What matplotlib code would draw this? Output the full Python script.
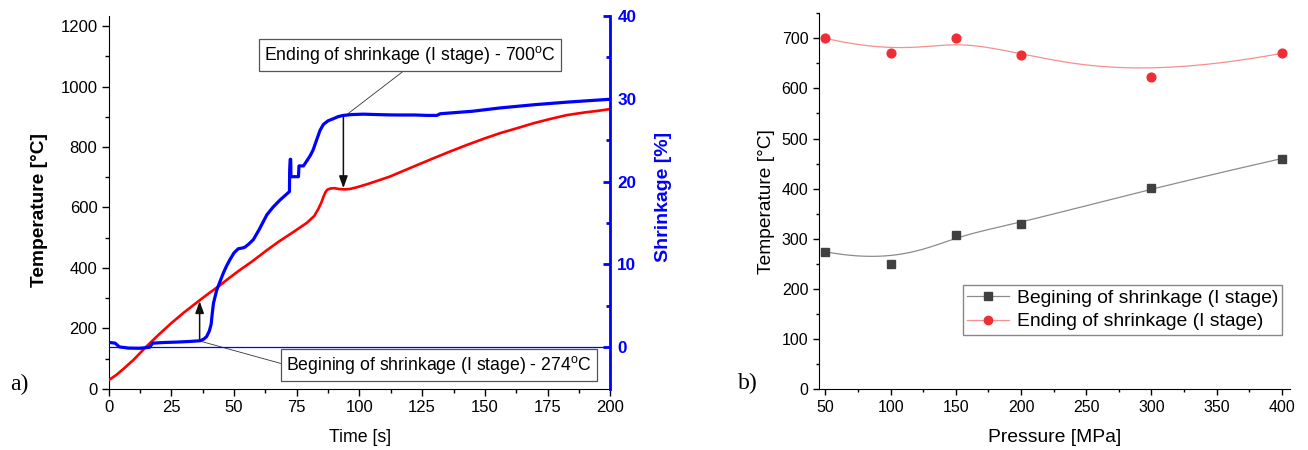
import numpy as np
import matplotlib
matplotlib.use("Agg")
import matplotlib.pyplot as plt
from matplotlib.ticker import MultipleLocator, FixedLocator

plt.rcParams['font.family'] = ['Liberation Sans', 'DejaVu Sans']
plt.rcParams['mathtext.fontset'] = 'custom'
plt.rcParams['mathtext.rm'] = 'Liberation Sans'
plt.rcParams['mathtext.it'] = 'Liberation Sans:italic'
plt.rcParams['mathtext.bf'] = 'Liberation Sans:bold'

# ---------------- data: panel a ----------------
time_temp = [0, 3, 6, 10, 15, 20, 25, 30, 36.5, 40, 44, 48, 52, 57, 63, 68, 73.7, 79,
             82, 83.6, 84.8, 85.6, 86.4, 87.2, 88.5, 90, 92, 94, 96, 99, 103, 107, 112,
             116, 122, 129.5, 136, 142.8, 150, 156, 163, 169.4, 176, 182.7, 190, 195, 200]
temperature = [28, 45, 66, 96, 139, 179, 217, 252, 294, 316, 340, 366, 391, 420, 458, 488,
               519, 549, 572, 595, 616, 634, 650, 659, 663, 664, 661, 660, 661, 667, 677,
               688, 702, 716, 737, 763, 785, 807, 829, 846, 863, 879, 893, 906, 915, 920, 926]

time_shr = [0, 2.6, 4.3, 8, 12.5, 16.3, 17.6, 22, 27.2, 32, 36.5, 38, 39.1, 40.2, 40.9,
            41.3, 41.8, 43.1, 44.5, 45.8, 47, 48.4, 50, 51.7, 53.5, 54.4, 56, 57.7, 60,
            63.1, 65.5, 68.4, 72.1, 72.2, 72.4, 72.6, 72.7, 75.7, 75.9, 77.7, 80.3, 81.5,
            83, 84.3, 85.6, 87.5, 89.6, 91.5, 93.6, 97, 101.6, 107, 112.2, 116, 122, 127,
            130.9, 132.2, 145, 156, 170, 182.7, 190, 200]
shrinkage = [0.6, 0.5, 0.05, -0.1, -0.12, 0.0, 0.5, 0.58, 0.63, 0.7, 0.79, 1.0, 1.3, 2.0,
             2.8, 4.0, 5.3, 6.9, 8.0, 9.0, 9.8, 10.6, 11.4, 11.9, 12.0, 12.1, 12.5, 13.0,
             14.2, 16.0, 16.9, 17.8, 18.8, 21.5, 22.7, 22.7, 20.6, 20.6, 21.9, 21.9, 23.1,
             23.8, 25.1, 26.2, 26.9, 27.35, 27.6, 27.85, 28.0, 28.1, 28.15, 28.1, 28.06,
             28.05, 28.05, 28.0, 28.0, 28.2, 28.5, 28.9, 29.3, 29.6, 29.75, 29.95]

begin_label = "Begining of shrinkage (I stage) - 274$^{\\mathrm{o}}$C"
end_label = "Ending of shrinkage (I stage) - 700$^{\\mathrm{o}}$C"

# ---------------- data: panel b ----------------
pressure = [50, 100, 150, 200, 300, 400]
begin_temp = [274, 250, 308, 330, 401, 460]
end_temp = [700, 670, 700, 666, 622, 670]
legend_labels = ["Begining of shrinkage (I stage)", "Ending of shrinkage (I stage)"]


def bspline_curve(xs, ys, k=3, num=400):
    """Clamped B-spline using the data points as control points (Origin 'B-Spline')."""
    P = np.column_stack([xs, ys]).astype(float)
    n = len(P)
    k = min(k, n - 1)
    inner = np.linspace(0, 1, n - k + 1)[1:-1]
    t = np.concatenate([np.zeros(k + 1), inner, np.ones(k + 1)])
    u = np.linspace(0, 1, num)

    def basis(i, p):
        if p == 0:
            res = ((t[i] <= u) & (u < t[i + 1])).astype(float)
            if t[i] < t[i + 1] and t[i + 1] == 1.0:
                res[u == 1.0] = 1.0
            return res
        out = np.zeros_like(u)
        d1 = t[i + p] - t[i]
        if d1 > 0:
            out += (u - t[i]) / d1 * basis(i, p - 1)
        d2 = t[i + p + 1] - t[i + 1]
        if d2 > 0:
            out += (t[i + p + 1] - u) / d2 * basis(i + 1, p - 1)
        return out

    C = np.zeros((num, 2))
    for i in range(n):
        C += basis(i, k)[:, None] * P[i]
    return C[:, 0], C[:, 1]


fig = plt.figure(figsize=(13.08, 4.5), dpi=100)

# ================= panel a =================
ax = fig.add_axes([0.0830, 0.1362, 0.3836, 0.8282])
ax2 = ax.twinx()

ax.plot(time_temp, temperature, color='#ff0000', lw=1.9, zorder=3)
ax2.axhline(0, color='#0000ff', lw=0.9, zorder=2)
ax2.plot(time_shr, shrinkage, color='#0000ff', lw=2.3, zorder=3)

ax.set_xlim(0, 200)
ax.set_ylim(0, 1234)
ax2.set_ylim(-5, 40)

ax.xaxis.set_major_locator(MultipleLocator(25))
ax.xaxis.set_minor_locator(MultipleLocator(12.5))
ax.yaxis.set_major_locator(MultipleLocator(200))
ax.yaxis.set_minor_locator(MultipleLocator(100))
ax2.yaxis.set_major_locator(FixedLocator([0, 10, 20, 30, 40]))
ax2.yaxis.set_minor_locator(FixedLocator([5, 15, 25, 35]))

ax.spines['top'].set_visible(False)
ax.spines['right'].set_visible(False)
ax2.spines['top'].set_visible(False)
ax2.spines['left'].set_visible(False)
ax2.spines['bottom'].set_visible(False)
ax2.spines['right'].set_color('#0000ff')
ax2.spines['right'].set_linewidth(2.0)

ax.tick_params(axis='both', which='major', direction='out', length=5, width=1,
               labelsize=12, pad=3)
ax.tick_params(axis='both', which='minor', direction='out', length=2.8, width=1)
ax2.tick_params(axis='y', which='major', direction='in', length=5, width=2,
                colors='#0000ff', labelsize=12.3, pad=5)
ax2.tick_params(axis='y', which='minor', direction='in', length=3, width=2,
                colors='#0000ff')
for lab in ax2.get_yticklabels():
    lab.set_fontweight('bold')

ax.set_xlabel("Time [s]", fontsize=12.8, va='center')
ax.xaxis.set_label_coords(0.501, -0.13)
ax.set_ylabel("Temperature [°C]", fontsize=13.8, fontweight='bold', va='center')
ax.yaxis.set_label_coords(-0.1367, 0.4795)
ax2.set_ylabel("Shrinkage [%]", fontsize=14, fontweight='bold', color='#0000ff',
               va='center', rotation=90)
ax2.yaxis.set_label_coords(1.107, 0.514)

box = dict(boxstyle='square,pad=0.3', fc='white', ec='#555555', lw=0.9)
arrow_style = '-|>,head_length=0.72,head_width=0.26'
# begin arrow (blue level -> red curve)
ax.annotate("", xy=(36.3, 290), xytext=(36.3, 158),
            arrowprops=dict(arrowstyle=arrow_style, color='#111111', lw=1.1,
                            shrinkA=0, shrinkB=0, mutation_scale=10), zorder=5)
ax.annotate("", xy=(93.6, 664), xytext=(93.6, 904),
            arrowprops=dict(arrowstyle=arrow_style, color='#111111', lw=1.1,
                            shrinkA=0, shrinkB=0, mutation_scale=10), zorder=5)
ax.annotate(end_label, xy=(94.4, 904), xytext=(120.2, 1105), ha='center', va='center',
            fontsize=12.7, bbox=box, zorder=6,
            arrowprops=dict(arrowstyle='-', color='#333333', lw=0.6, relpos=(0.5, 0.0),
                            shrinkA=0, shrinkB=0))
ax.annotate(begin_label, xy=(36.3, 158), xytext=(131.8, 78.5), ha='center', va='center',
            fontsize=12.7, bbox=box, zorder=6,
            arrowprops=dict(arrowstyle='-', color='#333333', lw=0.6, relpos=(0.0, 0.5),
                            shrinkA=0, shrinkB=0))

fig.text(19 / 1308, 1 - 384 / 450, "a)", fontsize=17, family='Liberation Serif',
         ha='center', va='center')

# ================= panel b =================
bx = fig.add_axes([0.6265, 0.1353, 0.3598, 0.8353])
gx, gy = bspline_curve(pressure, begin_temp)
rx, ry = bspline_curve(pressure, end_temp)
bx.plot(gx, gy, color='#8c8c8c', lw=0.9, zorder=2)
bx.plot(rx, ry, color='#f49090', lw=0.9, zorder=2)
bx.plot(pressure, begin_temp, ls='none', marker='s', ms=6, color='#404040', zorder=3)
bx.plot(pressure, end_temp, ls='none', marker='o', ms=6.3, color='#ee2e35', zorder=3)

bx.set_xlim(45.4, 406.4)
bx.set_ylim(0, 750)
bx.xaxis.set_major_locator(MultipleLocator(50))
bx.xaxis.set_minor_locator(MultipleLocator(25))
bx.yaxis.set_major_locator(FixedLocator([0, 100, 200, 300, 400, 500, 600, 700]))
bx.yaxis.set_minor_locator(FixedLocator([50, 150, 250, 350, 450, 550, 650, 750]))
bx.spines['top'].set_visible(False)
bx.spines['right'].set_visible(False)
bx.tick_params(axis='both', which='major', direction='out', length=4, width=1,
               labelsize=11.5, pad=4)
bx.tick_params(axis='both', which='minor', direction='out', length=2.5, width=1)

bx.set_xlabel("Pressure [MPa]", fontsize=13.9, va='center')
bx.xaxis.set_label_coords(0.4996, -0.129)
bx.set_ylabel("Temperature [°C]", fontsize=13.8, va='center')
bx.yaxis.set_label_coords(-0.1135, 0.498)

h1, = bx.plot([], [], color='#8c8c8c', lw=0.9, marker='s', ms=5.5, mfc='#404040', mec='#404040')
h2, = bx.plot([], [], color='#f49090', lw=0.9, marker='o', ms=6, mfc='#ee2e35', mec='#ee2e35')
leg = bx.legend([h1, h2], legend_labels, loc='upper left', bbox_to_anchor=(0.3045, 0.277),
                borderaxespad=0, fontsize=13.9, frameon=True, fancybox=False,
                edgecolor='#888888', framealpha=1, handlelength=2.15, handletextpad=0.43,
                labelspacing=0.32, borderpad=0.22)
leg.get_frame().set_linewidth(1.0)

fig.text(748 / 1308, 1 - 383 / 450, "b)", fontsize=17, family='Liberation Serif',
         ha='center', va='center')

fig.savefig("out.png", dpi=100)
